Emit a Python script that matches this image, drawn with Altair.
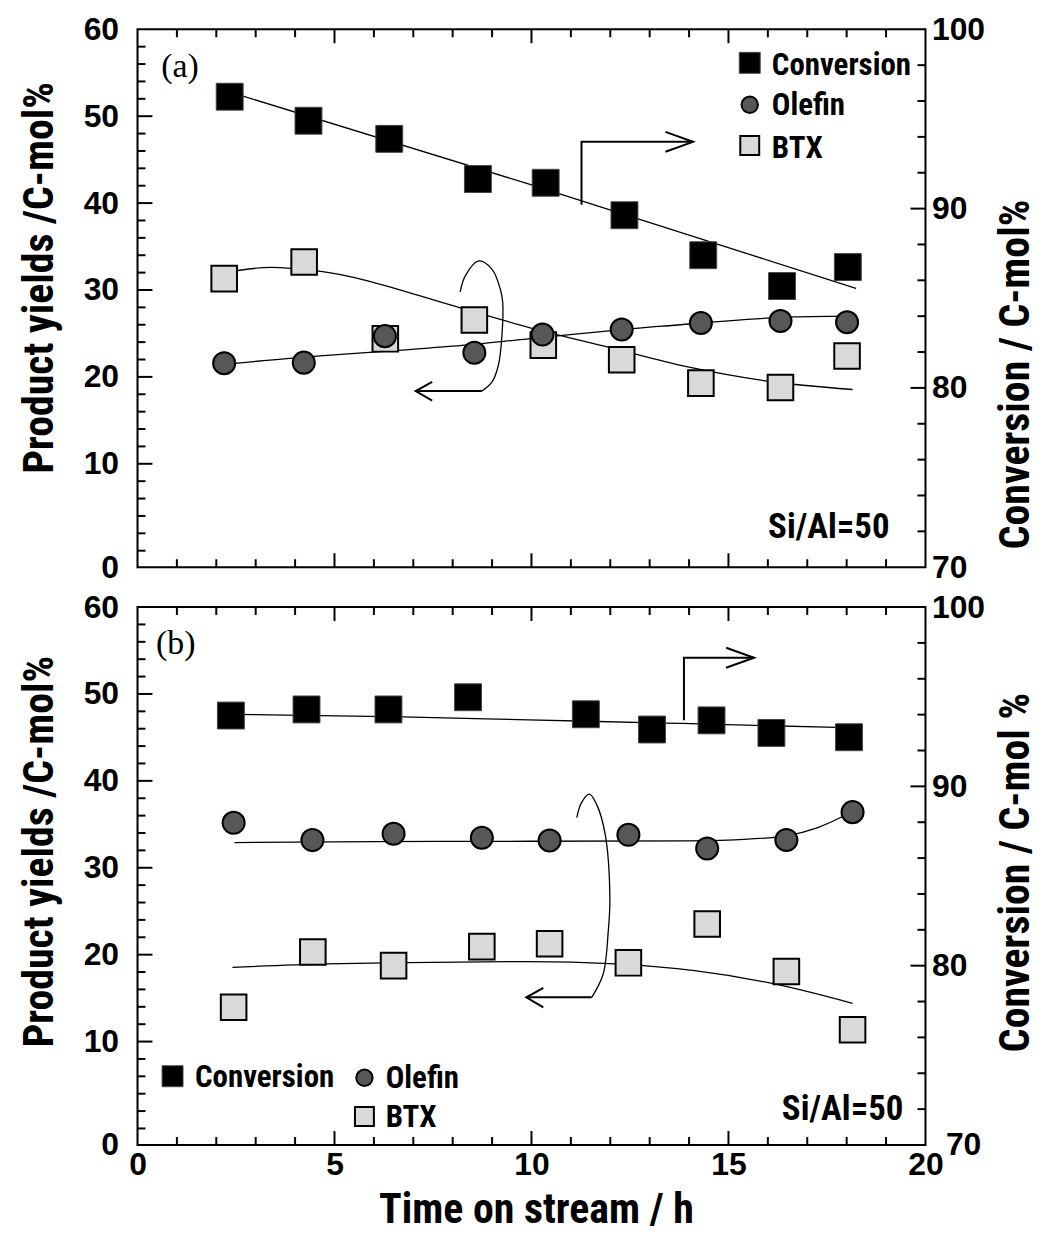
import altair as alt
import pandas as pd

NARROW = "Liberation Sans Narrow, Arial Narrow, Roboto Condensed, DejaVu Sans Condensed, sans-serif"
SANS = "Liberation Sans, Arial, Helvetica, sans-serif"
SERIF = "Liberation Serif, Times New Roman, serif"

W, H = 791, 540

# ---------------- panel (a) data ----------------
a_conv_t = [2.34, 4.34, 6.39, 8.64, 10.36, 12.36, 14.36, 16.36, 18.03]
a_conv = [96.24, 94.90, 93.89, 91.65, 91.44, 89.63, 87.40, 85.68, 86.74]
a_ole_t = [2.20, 4.22, 6.28, 8.55, 10.28, 12.29, 14.30, 16.32, 18.01]
a_ole = [21.57, 21.64, 24.69, 22.78, 24.88, 25.45, 26.20, 26.43, 26.29]
a_btx_t = [2.20, 4.23, 6.29, 8.55, 10.30, 12.29, 14.30, 16.32, 18.01]
a_btx = [31.31, 33.22, 24.38, 26.55, 23.66, 21.98, 19.28, 18.78, 22.40]

a_conv_fit_t = [2.34, 9.92, 18.24]
a_conv_fit = [96.5, 91.38, 85.55]
a_ole_fit_t = [2.2, 4.55, 6.62, 8.24, 9.92, 13.3, 16.66, 18.0]
a_ole_fit = [21.45, 22.4, 23.05, 23.62, 24.38, 25.83, 26.9, 27.0]
a_btx_fit_t = [2.2, 3.4, 4.56, 8.24, 9.92, 11.95, 13.97, 16.0, 18.15]
a_btx_fit = [32.0, 32.6, 32.19, 27.89, 25.71, 23.43, 21.14, 19.5, 18.55]

# ---------------- panel (b) data ----------------
b_conv_t = [2.37, 4.29, 6.37, 8.39, 11.38, 13.06, 14.57, 16.09, 18.06]
b_conv = [93.95, 94.29, 94.29, 94.97, 94.02, 93.17, 93.68, 92.98, 92.74]
b_ole_t = [2.44, 4.44, 6.50, 8.74, 10.46, 12.46, 14.46, 16.47, 18.15]
b_ole = [35.17, 33.18, 33.91, 33.45, 33.14, 33.79, 32.22, 33.20, 36.40]
b_btx_t = [2.44, 4.45, 6.50, 8.74, 10.46, 12.46, 14.46, 16.47, 18.15]
b_btx = [13.94, 20.31, 18.74, 20.92, 21.26, 19.06, 23.53, 18.07, 11.36]

b_conv_fit_t = [2.37, 6.72, 9.92, 13.4, 17.73, 18.06]
b_conv_fit = [94.02, 93.88, 93.71, 93.53, 93.29, 93.27]
b_ole_fit_t = [2.46, 6.0, 10.0, 14.0, 15.5, 16.46, 17.27, 18.15]
b_ole_fit = [32.9, 33.0, 33.05, 33.1, 33.3, 33.68, 34.63, 36.47]
b_btx_fit_t = [2.41, 4.78, 6.84, 9.92, 12.13, 14.14, 16.17, 18.15]
b_btx_fit = [18.54, 18.93, 19.08, 19.2, 18.93, 18.16, 16.63, 14.4]

# ---------------- annotations (data units, left axis) ----------------
a_rarrow_x = [11.27, 11.27, 14.1]
a_rarrow_y = [39.8, 47.05, 47.05]
a_rhead_x = [13.4, 14.1, 13.4]
a_rhead_y = [48.19, 47.05, 45.91]
a_arc_x = [8.19, 8.32, 8.66, 9.0, 9.21, 9.27, 9.25, 9.16, 9.0, 8.74]
a_arc_y = [29.79, 31.62, 33.34, 32.38, 30.09, 28.57, 24.76, 21.34, 19.43, 18.37]
a_larrow_x = [8.74, 7.06]
a_larrow_y = [18.37, 18.37]
a_lhead_x = [7.48, 7.06, 7.48]
a_lhead_y = [19.43, 18.37, 17.26]

b_rarrow_x = [13.87, 13.87, 15.65]
b_rarrow_y = [46.98, 54.17, 54.17]
b_rhead_x = [14.94, 15.65, 14.94]
b_rhead_y = [55.32, 54.17, 53.02]
b_arc_x = [11.15, 11.27, 11.47, 11.65, 11.87, 11.99, 11.95, 11.82, 11.53]
b_arc_y = [35.78, 37.5, 38.47, 37.32, 33.87, 26.59, 22.76, 17.78, 15.09]
b_larrow_x = [11.53, 9.87]
b_larrow_y = [15.09, 15.09]
b_lhead_x = [10.3, 9.87, 10.3]
b_lhead_y = [16.17, 15.09, 13.94]

legend_labels = ["Conversion", "Olefin", "BTX"]
a_leg_mx = [15.54, 15.54, 15.54]
a_leg_my = [56.14, 51.31, 46.63]
a_leg_tx = [16.1, 16.1, 16.1]
a_leg_ty = [54.78, 50.09, 45.14]
b_leg_mx = [0.89, 5.76, 5.76]
b_leg_my = [6.01, 5.83, 1.38]
b_leg_tx = [1.46, 6.3, 6.3]
b_leg_ty = [4.75, 4.6, 0.15]

# tick values
x_major = [5, 10, 15]
x_minor = [v for v in range(1, 20) if v % 5 != 0]
yl_major = [10, 20, 30, 40, 50]
yl_minor = [v for v in range(0, 60, 2) if v % 10 != 0 or v == 0]
yr_major = [80, 90]
yr_minor = [v for v in range(72, 100, 2) if v % 10 != 0]
x_labels = [0, 5, 10, 15, 20]
yl_labels = [-1.9, 10, 20, 30, 40, 50, 60]
yr_labels = [70, 80, 90, 100]

xs = alt.Scale(domain=[0, 20], nice=False, zero=False)
yl = alt.Scale(domain=[-1.9, 60], nice=False, zero=False)
yr = alt.Scale(domain=[70, 100], nice=False, zero=False)

CONV = dict(shape="square", filled=True, fill="black", stroke="#444444", strokeWidth=1, opacity=1)
OLE = dict(shape="circle", filled=True, fill="#575757", stroke="black", strokeWidth=2, opacity=1)
BTX = dict(shape="square", filled=True, fill="#d9d9d9", stroke="black", strokeWidth=2, opacity=1)


def make_panel(bottom, left_title_y, right_title, right_title_y, d):
    if bottom:
        x_axis = alt.Axis(values=x_labels, ticks=False, tickSize=0, domain=False, grid=False,
                          labelFont=SANS, labelFontSize=32, labelFontWeight="bold", labelColor="black",
                          labelPadding=5, labelFlush=False, labelOverlap=False,
                          title="Time on stream / h", titleFont=NARROW, titleFontSize=42,
                          titleFontWeight="bold", titleColor="black", titleX=400, titleY=78,
                          titleAlign="center", titleBaseline="alphabetic", titleAngle=0)
        r_pad = {"condition": {"test": "datum.value == 70", "value": 20}, "value": 6}
    else:
        x_axis = None
        r_pad = 6
    left_axis = alt.Axis(orient="left", values=yl_labels,
                         labelExpr="datum.value < 0 ? '0' : datum.label",
                         ticks=False, tickSize=0, domain=False, grid=False,
                         labelFont=SANS, labelFontSize=32, labelFontWeight="bold", labelColor="black",
                         labelPadding=19, labelOverlap=False, labelFlush=False,
                         title="Product yields /C-mol%", titleFont=NARROW, titleFontSize=42,
                         titleFontWeight="bold", titleColor="black", titleAngle=270,
                         titleX=-98, titleY=left_title_y, titleAlign="center", titleBaseline="middle")
    right_axis = alt.Axis(orient="right", values=yr_labels,
                          ticks=False, tickSize=0, domain=False, grid=False,
                          labelFont=SANS, labelFontSize=32, labelFontWeight="bold", labelColor="black",
                          labelPadding=r_pad, labelOverlap=False, labelFlush=False,
                          title=right_title, titleFont=NARROW, titleFontSize=42,
                          titleFontWeight="bold", titleColor="black", titleAngle=270,
                          titleX=90, titleY=right_title_y, titleAlign="center", titleBaseline="middle")

    def X(f="x"):
        return alt.X(f, type="quantitative", scale=xs, axis=x_axis)

    def YL(f="y"):
        return alt.Y(f, type="quantitative", scale=yl, axis=left_axis)

    def YR(f="y"):
        return alt.Y(f, type="quantitative", scale=yr, axis=right_axis)

    rule = dict(color="black", strokeWidth=2)
    left_layers = []
    right_layers = []
    # frame
    left_layers.append(alt.Chart(pd.DataFrame({"k": [0]})).mark_rect(
        fillOpacity=0, stroke="black", strokeWidth=2).encode(
        x=alt.value(0), x2=alt.value(W), y=alt.value(0), y2=alt.value(H)))
    # x ticks top & bottom
    for vals, ln in ((x_major, 14), (x_minor, 8)):
        dd = pd.DataFrame({"v": vals})
        left_layers.append(alt.Chart(dd).mark_rule(**rule).encode(x=X("v"), y=alt.value(0), y2=alt.value(ln)))
        left_layers.append(alt.Chart(dd).mark_rule(**rule).encode(x=X("v"), y=alt.value(H - ln), y2=alt.value(H)))
    for vals, ln in ((yl_major, 15), (yl_minor, 8)):
        dd = pd.DataFrame({"v": vals})
        left_layers.append(alt.Chart(dd).mark_rule(**rule).encode(y=YL("v"), x=alt.value(0), x2=alt.value(ln)))
    for vals, ln in ((yr_major, 15), (yr_minor, 8)):
        dd = pd.DataFrame({"v": vals})
        right_layers.append(alt.Chart(dd).mark_rule(**rule).encode(y=YR("v"), x=alt.value(W - ln), x2=alt.value(W)))

    def line(xv, yvv, interp="monotone", sw=1.3, Y=YL):
        dd = pd.DataFrame({"x": xv, "y": yvv, "i": list(range(len(xv)))})
        return alt.Chart(dd).mark_line(color="black", strokeWidth=sw, interpolate=interp).encode(
            x=X(), y=Y(), order=alt.Order("i:Q"))

    def pts(xv, yvv, style, size, Y=YL):
        dd = pd.DataFrame({"x": xv, "y": yvv})
        return alt.Chart(dd).mark_point(size=size, **style).encode(x=X(), y=Y())

    def txt(xv, yvv, labels, font, size, align, weight="bold"):
        dd = pd.DataFrame({"x": xv, "y": yvv, "t": labels})
        return alt.Chart(dd).mark_text(font=font, fontSize=size, fontWeight=weight, align=align,
                                       baseline="alphabetic", color="black").encode(
            x=X(), y=YL(), text="t:N")

    # fits
    left_layers.append(line(d["ole_fit_t"], d["ole_fit"]))
    left_layers.append(line(d["btx_fit_t"], d["btx_fit"]))
    # annotations
    left_layers.append(line(d["rarrow_x"], d["rarrow_y"], "linear", 2))
    left_layers.append(line(d["rhead_x"], d["rhead_y"], "linear", 2))
    left_layers.append(line(d["arc_x"], d["arc_y"], "catmull-rom", 1.3))
    left_layers.append(line(d["larrow_x"], d["larrow_y"], "linear", 2))
    left_layers.append(line(d["lhead_x"], d["lhead_y"], "linear", 2))
    # points
    left_layers.append(pts(d["btx_t"], d["btx"], BTX, 660))
    left_layers.append(pts(d["ole_t"], d["ole"], OLE, 490))
    # legend
    mx, my = d["leg_mx"], d["leg_my"]
    left_layers.append(pts([mx[0]], [my[0]], CONV, 441))
    left_layers.append(pts([mx[1]], [my[1]], OLE, 270))
    left_layers.append(pts([mx[2]], [my[2]], BTX, 361))
    left_layers.append(txt(d["leg_tx"], d["leg_ty"], legend_labels, NARROW, 31, "left"))
    # panel label and Si/Al
    left_layers.append(txt([d["lab_x"]], [d["lab_y"]], [d["lab"]], SERIF, 34, "left", "normal"))
    left_layers.append(txt([d["si_x"]], [d["si_y"]], ["Si/Al=50"], NARROW, 35, "right"))

    right_layers.append(line(d["conv_fit_t"], d["conv_fit"], Y=YR))
    right_layers.append(pts(d["conv_t"], d["conv"], CONV, 729, Y=YR))

    left = alt.layer(*left_layers)
    right = alt.layer(*right_layers)
    return alt.layer(left, right).resolve_scale(y="independent").properties(width=W, height=H)


da = dict(conv_t=a_conv_t, conv=a_conv, ole_t=a_ole_t, ole=a_ole, btx_t=a_btx_t, btx=a_btx,
          conv_fit_t=a_conv_fit_t, conv_fit=a_conv_fit, ole_fit_t=a_ole_fit_t, ole_fit=a_ole_fit,
          btx_fit_t=a_btx_fit_t, btx_fit=a_btx_fit,
          rarrow_x=a_rarrow_x, rarrow_y=a_rarrow_y, rhead_x=a_rhead_x, rhead_y=a_rhead_y,
          arc_x=a_arc_x, arc_y=a_arc_y, larrow_x=a_larrow_x, larrow_y=a_larrow_y,
          lhead_x=a_lhead_x, lhead_y=a_lhead_y,
          leg_mx=a_leg_mx, leg_my=a_leg_my, leg_tx=a_leg_tx, leg_ty=a_leg_ty,
          lab="(a)", lab_x=0.6, lab_y=54.5, si_x=19.09, si_y=1.49)
db = dict(conv_t=b_conv_t, conv=b_conv, ole_t=b_ole_t, ole=b_ole, btx_t=b_btx_t, btx=b_btx,
          conv_fit_t=b_conv_fit_t, conv_fit=b_conv_fit, ole_fit_t=b_ole_fit_t, ole_fit=b_ole_fit,
          btx_fit_t=b_btx_fit_t, btx_fit=b_btx_fit,
          rarrow_x=b_rarrow_x, rarrow_y=b_rarrow_y, rhead_x=b_rhead_x, rhead_y=b_rhead_y,
          arc_x=b_arc_x, arc_y=b_arc_y, larrow_x=b_larrow_x, larrow_y=b_larrow_y,
          lhead_x=b_lhead_x, lhead_y=b_lhead_y,
          leg_mx=b_leg_mx, leg_my=b_leg_my, leg_tx=b_leg_tx, leg_ty=b_leg_ty,
          lab="(b)", lab_x=0.47, lab_y=54.6, si_x=19.44, si_y=1.03)

panel_a = make_panel(False, 249, "Conversion / C-mol%", 346, da)
panel_b = make_panel(True, 245, "Conversion / C-mol %", 266, db)

chart = alt.vconcat(panel_a, panel_b, spacing=40, bounds="flush").properties(
    padding={"left": 10, "top": 2, "right": 6, "bottom": 0}
).configure_view(stroke="black", strokeWidth=2).configure(background="white")

chart.save("out.html", embed_options={"renderer": "svg", "actions": False})
